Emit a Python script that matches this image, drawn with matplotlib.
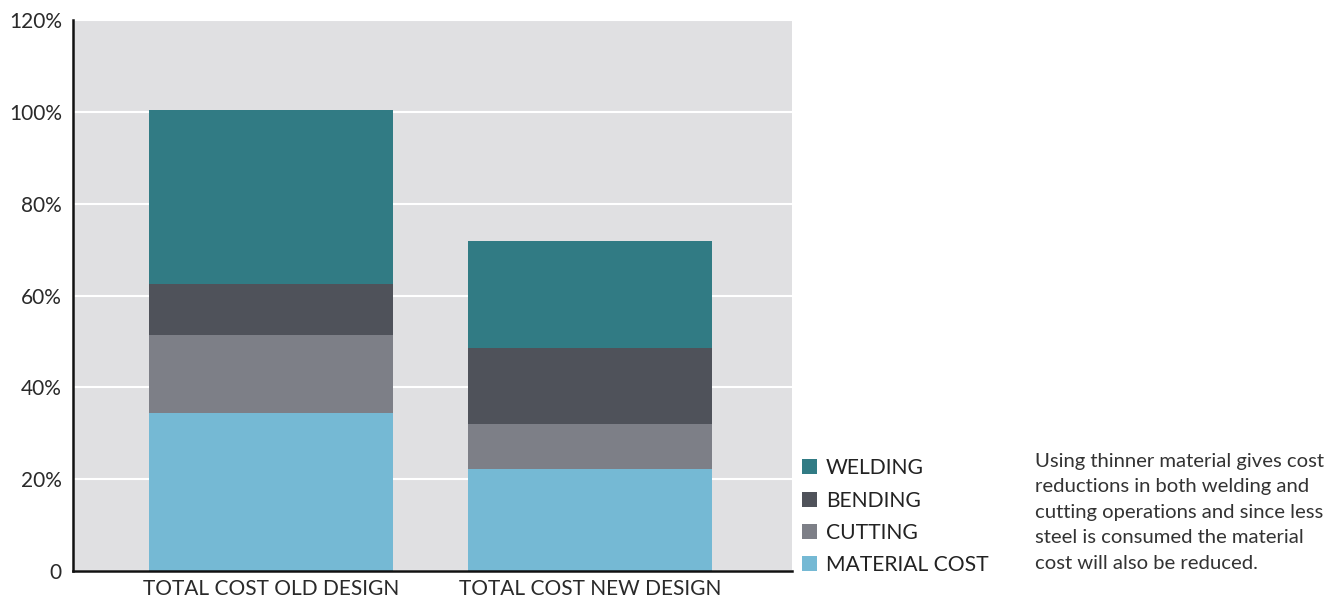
import matplotlib
matplotlib.use('Agg')
import matplotlib.pyplot as plt
import numpy as np

## Data ###########
designs = ['TOTAL COST OLD DESIGN', 'TOTAL COST NEW DESIGN']
material = [34.4, 22.2]
cutting = [17.0, 9.8]
bending = [11.1, 16.6]
welding = [37.9, 23.3]
yticks = [0, 20, 40, 60, 80, 100, 120]
ytick_labels = ['0', '20%', '40%', '60%', '80%', '100%', '120%']

note = ("Using thinner material gives cost\n"
        "reductions in both welding and\n"
        "cutting operations and since less\n"
        "steel is consumed the material\n"
        "cost will also be reduced.")

colors = {'MATERIAL COST': '#75b9d4', 'CUTTING': '#7d7f87',
          'BENDING': '#4f525a', 'WELDING': '#317b84'}

plt.rcParams['font.family'] = ['Lato', 'DejaVu Sans']

## Set up Chart ###########
fig = plt.figure(figsize=(13.43, 6.0), dpi=100)
ax = fig.add_axes([73/1343, 29/600, 719/1343, 551/600])
ax.set_facecolor('#e0e0e2')

x = np.arange(len(designs))
w = 0.765
bottom = np.zeros(len(designs))
handles = {}
for name, vals in [('MATERIAL COST', material), ('CUTTING', cutting),
                   ('BENDING', bending), ('WELDING', welding)]:
    handles[name] = ax.bar(x, vals, w, bottom=bottom, color=colors[name],
                           label=name, zorder=3)
    bottom += np.array(vals)

ax.set_xlim(-0.621, 1.633)
ax.set_ylim(0, 120)
ax.set_yticks(yticks)
ax.set_yticklabels(ytick_labels, fontsize=15, color='#2a2a2a')
ax.set_xticks(x)
ax.set_xticklabels(designs, fontsize=15, color='#2a2a2a')
ax.tick_params(length=0, pad=8)
ax.tick_params(axis='x', pad=6)
ax.yaxis.grid(True, color='white', linewidth=1.5, zorder=1)
ax.set_axisbelow(True)

for s in ['top', 'right']:
    ax.spines[s].set_visible(False)
for s in ['left', 'bottom']:
    ax.spines[s].set_color('#111111')
    ax.spines[s].set_linewidth(1.8)
    ax.spines[s].set_zorder(4)

## Legend ###########
order = ['WELDING', 'BENDING', 'CUTTING', 'MATERIAL COST']
leg = fig.legend([handles[n] for n in order], order, loc='lower left',
                 bbox_to_anchor=(783/1343, 6/600), frameon=False,
                 fontsize=15.2, handlelength=0.72, handleheight=0.72,
                 handletextpad=0.4, labelspacing=0.58)
for t in leg.get_texts():
    t.set_color('#222222')

fig.text(1035/1343, (600-453)/600, note, fontsize=14.6, color='#333333',
         va='top', ha='left', linespacing=1.6)

fig.savefig('out.png', dpi=100)
